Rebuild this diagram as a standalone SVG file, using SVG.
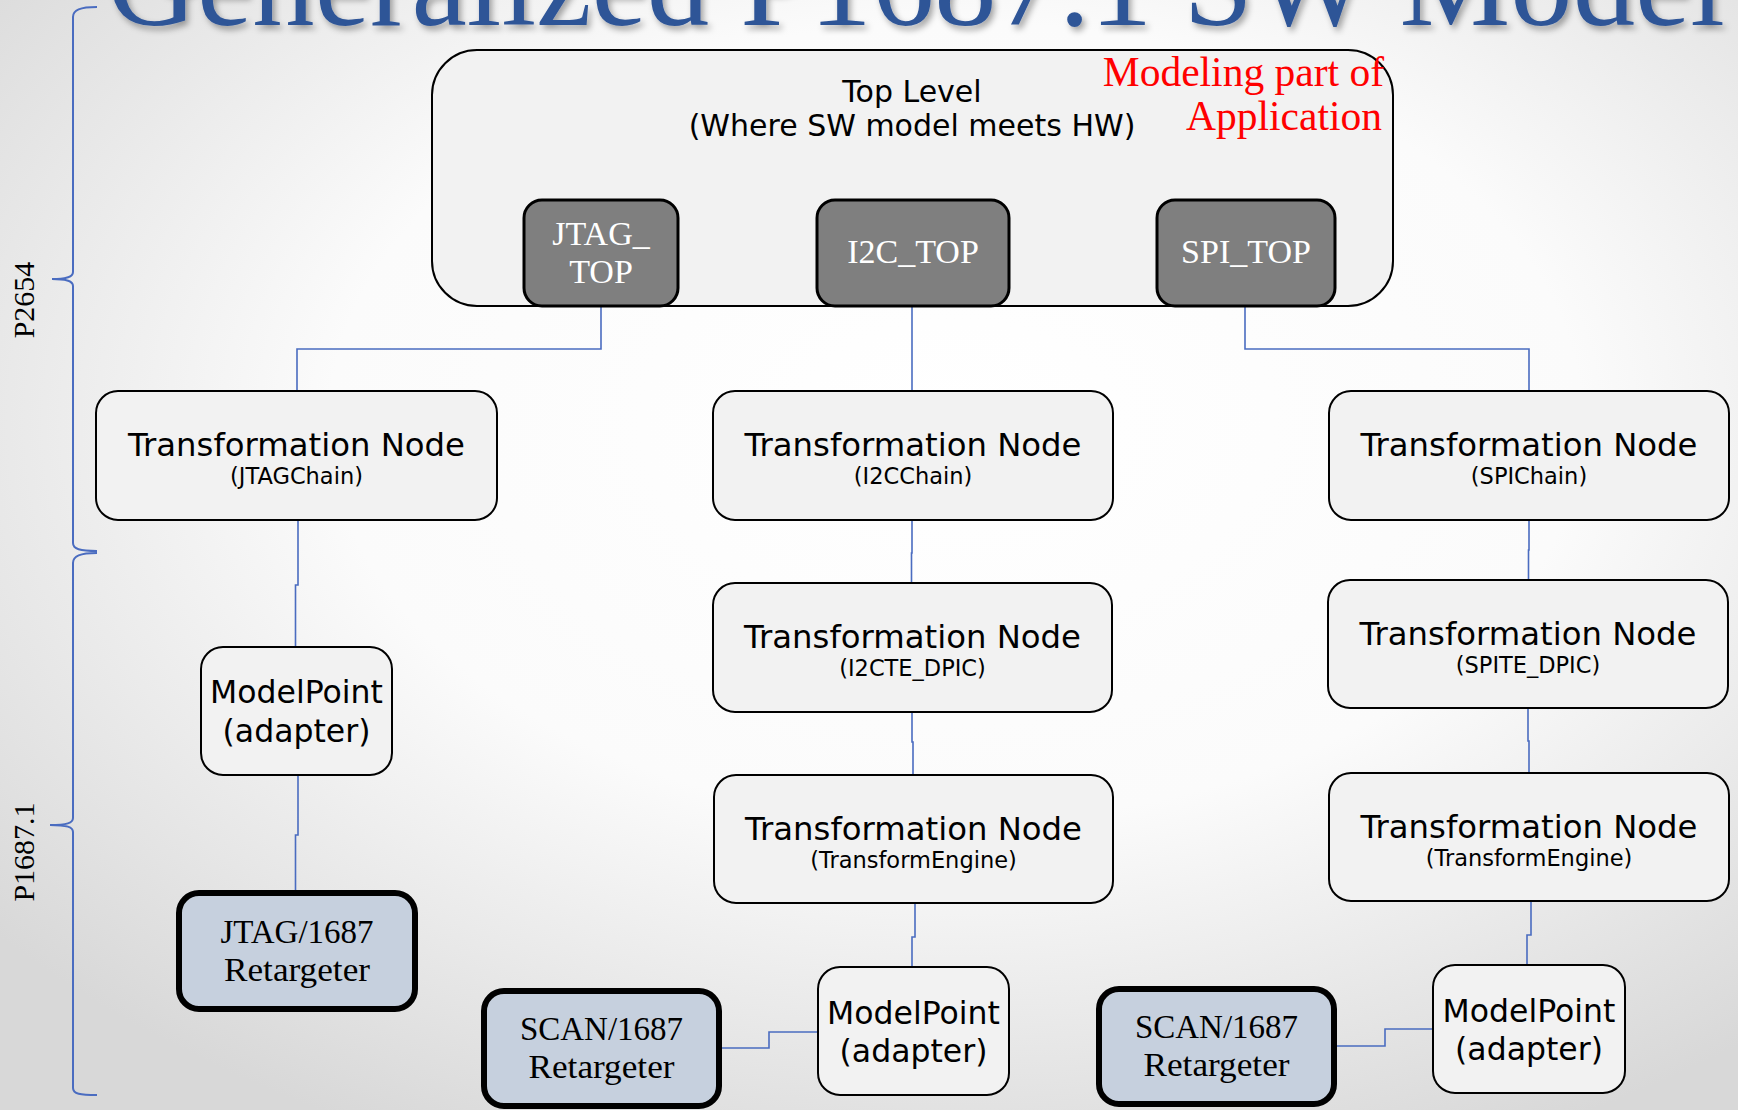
<svg xmlns="http://www.w3.org/2000/svg" width="1738" height="1110" viewBox="0 0 1738 1110">
<defs>
<radialGradient id="bg" cx="0.55" cy="0.38" r="0.72" gradientUnits="objectBoundingBox">
<stop offset="0" stop-color="#ffffff"/>
<stop offset="0.5" stop-color="#fbfbfb"/>
<stop offset="1" stop-color="#d8d8d8"/>
</radialGradient>
<filter id="sh" x="-5%" y="-50%" width="110%" height="200%">
<feDropShadow dx="3" dy="4" stdDeviation="3" flood-color="#000000" flood-opacity="0.35"/>
</filter>
</defs>
<style>
.box{fill:#f2f2f2;stroke:#000;stroke-width:2}
.dark{fill:#7f7f7f;stroke:#000;stroke-width:3}
.ret{fill:#c6d0de;stroke:#000;stroke-width:6}
.t1{font-family:"DejaVu Sans",Verdana,sans-serif;font-size:32.3px;fill:#000;text-anchor:middle}
.t3{font-family:"DejaVu Sans",Verdana,sans-serif;font-size:31.5px;fill:#000;text-anchor:middle}
.t2{font-family:"DejaVu Sans",Verdana,sans-serif;font-size:22.5px;fill:#000;text-anchor:middle}
.tl{font-family:"DejaVu Sans",Verdana,sans-serif;font-size:30px;fill:#000;text-anchor:middle}
.sw{font-family:"Liberation Serif","Times New Roman",serif;font-size:34px;fill:#fff;text-anchor:middle}
.sr{font-family:"Liberation Serif","Times New Roman",serif;font-size:33px;fill:#000;text-anchor:middle}
.red{font-family:"Liberation Serif","Times New Roman",serif;font-size:41.5px;fill:#ff0000;text-anchor:end}
.lab{font-family:"Liberation Serif","Times New Roman",serif;font-size:30px;fill:#000;text-anchor:middle}
.con{fill:none;stroke:#4a6cc0;stroke-width:1.6}
.brace{fill:none;stroke:#4a6cc0;stroke-width:2}
</style>
<rect x="0" y="0" width="1738" height="1110" fill="url(#bg)"/>
<text x="107" y="25" font-family="'Liberation Serif','Times New Roman',serif" font-size="124" fill="#2f5597" textLength="1618" lengthAdjust="spacingAndGlyphs" filter="url(#sh)">Generalized P1687.1 SW Model</text>

<g id="braces">
<path class="brace" d="M97,7 C80,7 73,10 73,17 L73,272 C73,277 67,279 52,279 C67,279 73,281 73,286 L73,543 C73,549 80,551 97,551"/>
<path class="brace" d="M97,553 C80,553 73,556 73,563 L73,818 C73,823 67,825 50,825 C67,825 73,827 73,832 L73,1088 C73,1094 80,1095 97,1095"/>
<text class="lab" transform="translate(34,300) rotate(-90)">P2654</text>
<text class="lab" transform="translate(34,852) rotate(-90)">P1687.1</text>
</g>

<g id="connectors">
<path class="con" d="M601,306 V349 H297 V391"/>
<path class="con" d="M912,306 V391"/>
<path class="con" d="M1245,306 V349 H1529 V391"/>
<path class="con" d="M298,520 V585 H295.5 V647"/>
<path class="con" d="M298,775 V835 H295.5 V890"/>
<path class="con" d="M912,520 V553 H911.5 V583"/>
<path class="con" d="M912,712 V742 H913 V775"/>
<path class="con" d="M915,903 V937 H912 V967"/>
<path class="con" d="M722,1048 H769 V1032 H818"/>
<path class="con" d="M1529,520 V550 H1528.5 V580"/>
<path class="con" d="M1528,708 V741 H1529 V773"/>
<path class="con" d="M1531,901 V935 H1527 V965"/>
<path class="con" d="M1337,1046 H1385 V1029 H1433"/>
</g>

<g id="top-level">
<rect class="box" x="432" y="50" width="961" height="256" rx="45"/>
<text class="tl" x="912" y="102">Top Level</text>
<text class="tl" x="912" y="136">(Where SW model meets HW)</text>
<text class="red" x="1384" y="86">Modeling part of</text>
<text class="red" x="1382" y="130">Application</text>
</g>

<g id="jtag-top">
<rect class="dark" x="524" y="200" width="154" height="106" rx="18"/>
<text class="sw" x="601" y="245">JTAG_</text>
<text class="sw" x="601" y="283">TOP</text>
</g>
<g id="i2c-top">
<rect class="dark" x="817" y="200" width="192" height="106" rx="18"/>
<text class="sw" x="913" y="263">I2C_TOP</text>
</g>
<g id="spi-top">
<rect class="dark" x="1157" y="200" width="178" height="106" rx="18"/>
<text class="sw" x="1246" y="263">SPI_TOP</text>
</g>

<g id="tn-jtagchain">
<rect class="box" x="96" y="391" width="401" height="129" rx="22"/>
<text class="t1" x="296.5" y="456">Transformation Node</text>
<text class="t2" x="296.5" y="484">(JTAGChain)</text>
</g>
<g id="tn-i2cchain">
<rect class="box" x="713" y="391" width="400" height="129" rx="22"/>
<text class="t1" x="913" y="456">Transformation Node</text>
<text class="t2" x="913" y="484">(I2CChain)</text>
</g>
<g id="tn-spichain">
<rect class="box" x="1329" y="391" width="400" height="129" rx="22"/>
<text class="t1" x="1529" y="456">Transformation Node</text>
<text class="t2" x="1529" y="484">(SPIChain)</text>
</g>
<g id="tn-i2cte-dpic">
<rect class="box" x="713" y="583" width="399" height="129" rx="22"/>
<text class="t1" x="912.5" y="648">Transformation Node</text>
<text class="t2" x="912.5" y="676">(I2CTE_DPIC)</text>
</g>
<g id="tn-spite-dpic">
<rect class="box" x="1328" y="580" width="400" height="128" rx="22"/>
<text class="t1" x="1528" y="645">Transformation Node</text>
<text class="t2" x="1528" y="673">(SPITE_DPIC)</text>
</g>
<g id="tn-te-center">
<rect class="box" x="714" y="775" width="399" height="128" rx="22"/>
<text class="t1" x="913.5" y="840">Transformation Node</text>
<text class="t2" x="913.5" y="868">(TransformEngine)</text>
</g>
<g id="tn-te-right">
<rect class="box" x="1329" y="773" width="400" height="128" rx="22"/>
<text class="t1" x="1529" y="838">Transformation Node</text>
<text class="t2" x="1529" y="866">(TransformEngine)</text>
</g>

<g id="mp-left">
<rect class="box" x="201" y="647" width="191" height="128" rx="22"/>
<text class="t3" x="296.5" y="703">ModelPoint</text>
<text class="t3" x="296.5" y="742">(adapter)</text>
</g>
<g id="mp-center">
<rect class="box" x="818" y="967" width="191" height="128" rx="22"/>
<text class="t3" x="913.5" y="1024">ModelPoint</text>
<text class="t3" x="913.5" y="1062">(adapter)</text>
</g>
<g id="mp-right">
<rect class="box" x="1433" y="965" width="192" height="128" rx="22"/>
<text class="t3" x="1529" y="1022">ModelPoint</text>
<text class="t3" x="1529" y="1060">(adapter)</text>
</g>

<g id="jtag-retargeter">
<rect class="ret" x="179" y="893" width="236" height="116" rx="20"/>
<text class="sr" x="297" y="943">JTAG/1687</text>
<text class="sr" x="297" y="981" textLength="146" lengthAdjust="spacingAndGlyphs">Retargeter</text>
</g>
<g id="scan-retargeter-center">
<rect class="ret" x="484" y="991" width="235" height="115" rx="20"/>
<text class="sr" x="601.5" y="1040">SCAN/1687</text>
<text class="sr" x="601.5" y="1078" textLength="146" lengthAdjust="spacingAndGlyphs">Retargeter</text>
</g>
<g id="scan-retargeter-right">
<rect class="ret" x="1099" y="989" width="235" height="115" rx="20"/>
<text class="sr" x="1216.5" y="1038">SCAN/1687</text>
<text class="sr" x="1216.5" y="1076" textLength="146" lengthAdjust="spacingAndGlyphs">Retargeter</text>
</g>
</svg>
